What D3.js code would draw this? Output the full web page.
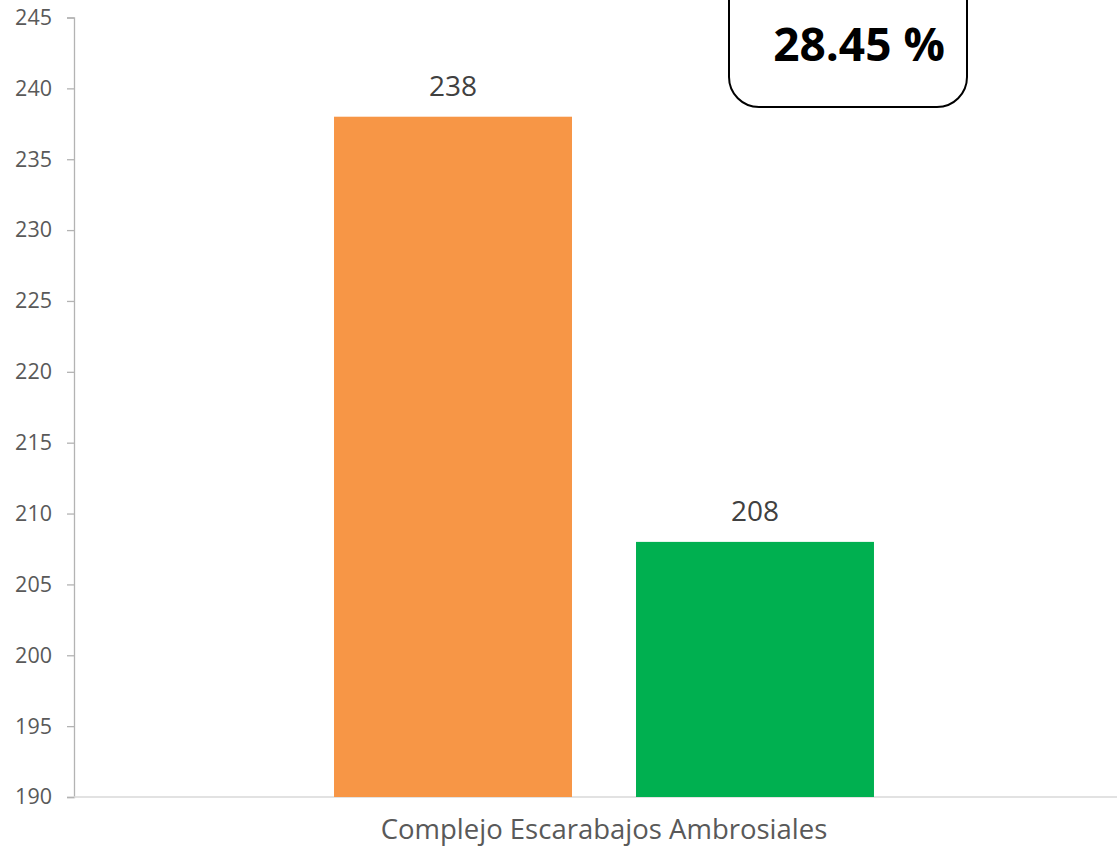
<!DOCTYPE html>
<html>
<head>
<meta charset="utf-8">
<script src="https://cdn.jsdelivr.net/npm/d3@7"></script>
<style>
  body { margin: 0; background: #fff; }
  svg { display: block; font-family: "Open Sans", "Noto Sans", sans-serif; }
</style>
</head>
<body>
<svg id="chart"></svg>
<script>
const categories = ['Complejo Escarabajos Ambrosiales'];
const seriesNames = ['Serie 1', 'Serie 2'];
const seriesValues = [238, 208];
const seriesColors = ['#F79646', '#00B050'];
const yTicks = [190, 195, 200, 205, 210, 215, 220, 225, 230, 235, 240, 245];
const changeLabel = '28.45 %';

const width = 1117;
const height = 858;

const svg = d3.select('#chart')
  .attr('width', width)
  .attr('height', height);

const y = d3.scaleLinear()
  .domain([190, 245])
  .range([797, 17.5]);

const x0 = d3.scaleBand()
  .domain(categories)
  .range([74, 1134]);

const groupWidth = x0.bandwidth() * 0.5094;
const x1 = d3.scaleBand()
  .domain(seriesNames)
  .range([(x0.bandwidth() - groupWidth) / 2, (x0.bandwidth() + groupWidth) / 2])
  .paddingInner(0.212);

// y axis
const yAxis = svg.append('g')
  .attr('transform', 'translate(74,0)')
  .call(d3.axisLeft(y).tickValues(yTicks).tickSize(7).tickPadding(15));
yAxis.attr('font-family', null).attr('font-size', null);
yAxis.select('.domain').attr('stroke', '#b3b3b3').attr('stroke-width', 1.3);
yAxis.selectAll('.tick line').attr('stroke', '#b3b3b3').attr('stroke-width', 1.3);
yAxis.selectAll('.tick text')
  .attr('fill', '#595959')
  .style('font-size', '21.5px');

// x axis line
svg.append('line')
  .attr('x1', 74).attr('x2', width)
  .attr('y1', y(190)).attr('y2', y(190))
  .attr('stroke', '#d9d9d9').attr('stroke-width', 1.3);

// bars
const groups = svg.selectAll('g.cat')
  .data(categories)
  .join('g')
  .attr('class', 'cat')
  .attr('transform', d => `translate(${x0(d)},0)`);

const barData = seriesNames.map((s, i) => ({ name: s, value: seriesValues[i], color: seriesColors[i] }));

groups.selectAll('rect')
  .data(barData)
  .join('rect')
  .attr('x', d => x1(d.name))
  .attr('y', d => y(d.value))
  .attr('width', x1.bandwidth())
  .attr('height', d => y(190) - y(d.value))
  .attr('fill', d => d.color);

groups.selectAll('text.val')
  .data(barData)
  .join('text')
  .attr('class', 'val')
  .attr('x', d => x1(d.name) + x1.bandwidth() / 2)
  .attr('y', d => y(d.value) - 21)
  .attr('text-anchor', 'middle')
  .attr('fill', '#404040')
  .style('font-size', '28px')
  .text(d => d.value);

// category label
svg.selectAll('text.cat-label')
  .data(categories)
  .join('text')
  .attr('class', 'cat-label')
  .attr('x', d => x0(d) + x0.bandwidth() / 2)
  .attr('y', 839)
  .attr('text-anchor', 'middle')
  .attr('fill', '#595959')
  .style('font-size', '27.5px')
  .text(d => d);

// change box
svg.append('rect')
  .attr('x', 729).attr('y', -40)
  .attr('width', 238).attr('height', 147)
  .attr('rx', 30).attr('ry', 30)
  .attr('fill', '#fff')
  .attr('stroke', '#000')
  .attr('stroke-width', 2);

svg.append('text')
  .attr('x', 859)
  .attr('y', 61)
  .attr('text-anchor', 'middle')
  .attr('fill', '#000')
  .style('font-size', '46px')
  .style('font-weight', 'bold')
  .text(changeLabel);
</script>
</body>
</html>
